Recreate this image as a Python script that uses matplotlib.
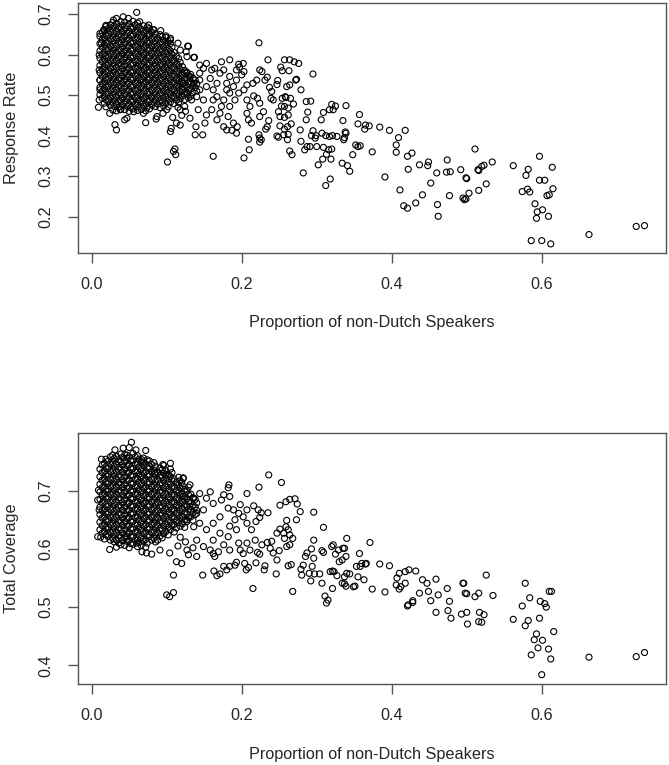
import matplotlib
matplotlib.use("Agg")
import matplotlib.pyplot as plt

plt.rcParams['font.family'] = ['Liberation Sans', 'DejaVu Sans']

x_ticks = [0.0, 0.2, 0.4, 0.6]
rr_ticks = [0.2, 0.3, 0.4, 0.5, 0.6, 0.7]
cov_ticks = [0.4, 0.5, 0.6, 0.7]

# the left cloud is solid black in the picture, so it is read as rows of
# circles; these are the two staggered column sets used by those rows
cols_a = [0.011, 0.017, 0.022, 0.028, 0.033, 0.039, 0.044, 0.050, 0.055, 0.061, 0.066, 0.072,
          0.077, 0.083, 0.088, 0.094, 0.099, 0.105, 0.110, 0.116, 0.121, 0.127, 0.132, 0.138]
cols_b = [0.014, 0.019, 0.025, 0.030, 0.036, 0.041, 0.047, 0.052, 0.058, 0.063, 0.069, 0.074,
          0.080, 0.085, 0.091, 0.096, 0.102, 0.107, 0.113, 0.118, 0.124, 0.129, 0.135, 0.140]

# response rate, solid cloud: (columns, first column, y values)
rr_rows = [
    (cols_a, 3, [0.679, 0.677, 0.681, 0.680, 0.676, 0.682, 0.678]),
    (cols_b, 1, [0.669, 0.673, 0.670, 0.668, 0.672, 0.671, 0.667, 0.673, 0.669, 0.671, 0.668]),
    (cols_a, 1, [0.660, 0.664, 0.661, 0.659, 0.663, 0.662, 0.658, 0.664, 0.660, 0.662, 0.659, 0.664, 0.661]),
    (cols_b, 0, [0.654, 0.651, 0.655, 0.652, 0.650, 0.654, 0.653, 0.649, 0.655, 0.651, 0.653, 0.650, 0.655, 0.652, 0.649]),
    (cols_a, 0, [0.645, 0.642, 0.646, 0.643, 0.641, 0.645, 0.644, 0.640, 0.646, 0.642, 0.644, 0.641, 0.646, 0.643, 0.640, 0.644, 0.642]),
    (cols_b, 0, [0.636, 0.633, 0.637, 0.634, 0.632, 0.636, 0.635, 0.631, 0.637, 0.633, 0.635, 0.632, 0.637, 0.634, 0.631, 0.635, 0.633]),
    (cols_a, 0, [0.627, 0.624, 0.628, 0.625, 0.623, 0.627, 0.626, 0.622, 0.628, 0.624, 0.626, 0.623, 0.628, 0.625, 0.622, 0.626, 0.624, 0.627]),
    (cols_b, 0, [0.618, 0.615, 0.619, 0.616, 0.614, 0.618, 0.617, 0.613, 0.619, 0.615, 0.617, 0.614, 0.619, 0.616, 0.613, 0.617, 0.615, 0.618]),
    (cols_a, 0, [0.609, 0.606, 0.610, 0.607, 0.605, 0.609, 0.608, 0.604, 0.610, 0.606, 0.608, 0.605, 0.610, 0.607, 0.604, 0.608, 0.606, 0.609, 0.605]),
    (cols_b, 0, [0.600, 0.597, 0.601, 0.598, 0.596, 0.600, 0.599, 0.595, 0.601, 0.597, 0.599, 0.596, 0.601, 0.598, 0.595, 0.599, 0.597, 0.600, 0.596]),
    (cols_a, 0, [0.591, 0.588, 0.592, 0.589, 0.587, 0.591, 0.590, 0.586, 0.592, 0.588, 0.590, 0.587, 0.592, 0.589, 0.586, 0.590, 0.588, 0.591, 0.587, 0.590]),
    (cols_b, 0, [0.582, 0.579, 0.583, 0.580, 0.578, 0.582, 0.581, 0.577, 0.583, 0.579, 0.581, 0.578, 0.583, 0.580, 0.577, 0.581, 0.579, 0.582, 0.578, 0.581]),
    (cols_a, 0, [0.573, 0.570, 0.574, 0.571, 0.569, 0.573, 0.572, 0.568, 0.574, 0.570, 0.572, 0.569, 0.574, 0.571, 0.568, 0.572, 0.570, 0.573, 0.569, 0.572, 0.570]),
    (cols_b, 0, [0.564, 0.561, 0.565, 0.562, 0.560, 0.564, 0.563, 0.559, 0.565, 0.561, 0.563, 0.560, 0.565, 0.562, 0.559, 0.563, 0.561, 0.564, 0.560, 0.563, 0.561]),
    (cols_a, 0, [0.555, 0.552, 0.556, 0.553, 0.551, 0.555, 0.554, 0.550, 0.556, 0.552, 0.554, 0.551, 0.556, 0.553, 0.550, 0.554, 0.552, 0.555, 0.551, 0.554, 0.552, 0.556, 0.551]),
    (cols_b, 0, [0.546, 0.543, 0.547, 0.544, 0.542, 0.546, 0.545, 0.541, 0.547, 0.543, 0.545, 0.542, 0.547, 0.544, 0.541, 0.545, 0.543, 0.546, 0.542, 0.545, 0.543, 0.547, 0.542]),
    (cols_a, 0, [0.537, 0.534, 0.538, 0.535, 0.533, 0.537, 0.536, 0.532, 0.538, 0.534, 0.536, 0.533, 0.538, 0.535, 0.532, 0.536, 0.534, 0.537, 0.533, 0.536, 0.534, 0.538, 0.533, 0.537]),
    (cols_b, 0, [0.528, 0.525, 0.529, 0.526, 0.524, 0.528, 0.527, 0.523, 0.529, 0.525, 0.527, 0.524, 0.529, 0.526, 0.523, 0.527, 0.525, 0.528, 0.524, 0.527, 0.525, 0.529, 0.524, 0.528]),
    (cols_a, 0, [0.519, 0.516, 0.520, 0.517, 0.515, 0.519, 0.518, 0.514, 0.520, 0.516, 0.518, 0.515, 0.520, 0.517, 0.514, 0.518, 0.516, 0.519, 0.515, 0.518, 0.516, 0.520, 0.515, 0.519]),
    (cols_b, 0, [0.510, 0.507, 0.511, 0.508, 0.506, 0.510, 0.509, 0.505, 0.511, 0.507, 0.509, 0.506, 0.511, 0.508, 0.505, 0.509, 0.507, 0.510, 0.506, 0.509, 0.507, 0.511, 0.506, 0.510]),
    (cols_a, 0, [0.501, 0.498, 0.502, 0.499, 0.497, 0.501, 0.500, 0.496, 0.502, 0.498, 0.500, 0.497, 0.502, 0.499, 0.496, 0.500, 0.498, 0.501, 0.497, 0.500, 0.498, 0.502, 0.497]),
    (cols_b, 0, [0.492, 0.489, 0.493, 0.490, 0.488, 0.492, 0.491, 0.487, 0.493, 0.489, 0.491, 0.488, 0.493, 0.490, 0.487, 0.491, 0.489, 0.492, 0.488, 0.491, 0.489, 0.493]),
    (cols_a, 1, [0.480, 0.484, 0.481, 0.479, 0.483, 0.482, 0.478, 0.484, 0.480, 0.482, 0.479, 0.484, 0.481, 0.478, 0.482, 0.480, 0.483, 0.479, 0.482]),
    (cols_b, 1, [0.471, 0.475, 0.472, 0.470, 0.474, 0.473, 0.469, 0.475, 0.471, 0.473, 0.470, 0.475, 0.472, 0.469, 0.473, 0.471]),
    (cols_a, 3, [0.463, 0.461, 0.465, 0.464, 0.460, 0.466, 0.462, 0.464, 0.461, 0.466]),
]

# response rate, individual circles outside the solid cloud
rr_x = [0.726, 0.737, 0.663, 0.586, 0.600, 0.612, 0.597, 0.614, 0.582, 0.579, 0.597, 0.604,
        0.615, 0.574, 0.584, 0.581, 0.607, 0.610, 0.591, 0.601, 0.594, 0.593, 0.609, 0.562,
        0.511, 0.534, 0.523, 0.520, 0.515, 0.516, 0.500, 0.499, 0.526, 0.516, 0.503, 0.499,
        0.495, 0.497, 0.477, 0.492, 0.474, 0.478, 0.473, 0.460, 0.452, 0.461, 0.462, 0.449,
        0.448, 0.437, 0.441, 0.432, 0.421, 0.416, 0.411, 0.422, 0.427, 0.421, 0.418, 0.409,
        0.406, 0.406, 0.397, 0.384, 0.374, 0.391, 0.370, 0.364, 0.365, 0.355, 0.357, 0.348,
        0.355, 0.358, 0.352, 0.344, 0.341, 0.334, 0.339, 0.339, 0.338, 0.337, 0.335, 0.336,
        0.325, 0.320, 0.322, 0.317, 0.309, 0.306, 0.327, 0.321, 0.317, 0.312, 0.307, 0.299,
        0.300, 0.309, 0.316, 0.320, 0.313, 0.308, 0.319, 0.302, 0.318, 0.312, 0.295, 0.293,
        0.298, 0.291, 0.287, 0.284, 0.282, 0.279, 0.278, 0.286, 0.288, 0.286, 0.292, 0.295,
        0.279, 0.273, 0.272, 0.276, 0.270, 0.264, 0.263, 0.257, 0.252, 0.254, 0.264, 0.260,
        0.258, 0.259, 0.254, 0.265, 0.269, 0.262, 0.257, 0.253, 0.249, 0.251, 0.257, 0.262,
        0.266, 0.261, 0.257, 0.251, 0.256, 0.249, 0.247, 0.261, 0.262, 0.264, 0.267, 0.248,
        0.247, 0.237, 0.240, 0.239, 0.242, 0.235, 0.223, 0.223, 0.226, 0.224, 0.224, 0.232,
        0.234, 0.236, 0.224, 0.229, 0.224, 0.221, 0.216, 0.227, 0.224, 0.220, 0.215, 0.231,
        0.234, 0.209, 0.210, 0.203, 0.213, 0.209, 0.207, 0.211, 0.207, 0.203, 0.207, 0.200,
        0.203, 0.197, 0.202, 0.196,
        0.162, 0.184, 0.173, 0.164, 0.153, 0.149, 0.144, 0.138, 0.148, 0.151, 0.139, 0.131,
        0.129, 0.126, 0.136, 0.176, 0.180, 0.187, 0.193, 0.194, 0.189, 0.182, 0.167, 0.171,
        0.160, 0.153, 0.162, 0.176, 0.184, 0.189, 0.180, 0.167, 0.158, 0.171, 0.184, 0.193,
        0.196, 0.191, 0.184, 0.173, 0.149, 0.140, 0.144, 0.153, 0.136, 0.144, 0.131, 0.127,
        0.122, 0.127, 0.133, 0.124, 0.142, 0.162, 0.167, 0.180, 0.160, 0.144, 0.176, 0.193,
        0.009, 0.031, 0.033, 0.044, 0.047, 0.072, 0.060, 0.029, 0.033, 0.042, 0.049, 0.064,
        0.076, 0.082, 0.092, 0.099, 0.105, 0.105, 0.115, 0.128, 0.118, 0.127, 0.137, 0.011,
        0.016, 0.019, 0.013, 0.010, 0.010, 0.011, 0.011, 0.010, 0.024, 0.038, 0.056, 0.069,
        0.086, 0.087, 0.100, 0.118, 0.101, 0.109, 0.111, 0.112, 0.105, 0.106, 0.113, 0.118,
        0.095, 0.108, 0.120, 0.115, 0.125]
rr_y = [0.176, 0.178, 0.156, 0.141, 0.141, 0.133, 0.349, 0.322, 0.317, 0.302, 0.290, 0.290,
        0.269, 0.262, 0.261, 0.268, 0.252, 0.254, 0.232, 0.217, 0.212, 0.196, 0.201, 0.326,
        0.367, 0.335, 0.327, 0.324, 0.316, 0.314, 0.294, 0.296, 0.281, 0.265, 0.258, 0.244,
        0.246, 0.242, 0.252, 0.316, 0.340, 0.311, 0.310, 0.308, 0.283, 0.230, 0.201, 0.335,
        0.326, 0.328, 0.254, 0.234, 0.221, 0.227, 0.266, 0.317, 0.357, 0.349, 0.413, 0.395,
        0.377, 0.359, 0.413, 0.421, 0.360, 0.298, 0.424, 0.416, 0.426, 0.429, 0.452, 0.353,
        0.373, 0.375, 0.377, 0.312, 0.326, 0.332, 0.474, 0.406, 0.409, 0.395, 0.437, 0.390,
        0.473, 0.477, 0.464, 0.464, 0.457, 0.439, 0.398, 0.400, 0.398, 0.400, 0.406, 0.400,
        0.373, 0.371, 0.365, 0.367, 0.354, 0.342, 0.342, 0.328, 0.293, 0.277, 0.412, 0.400,
        0.394, 0.373, 0.373, 0.365, 0.308, 0.386, 0.414, 0.439, 0.458, 0.484, 0.485, 0.552,
        0.513, 0.539, 0.537, 0.578, 0.582, 0.587, 0.560, 0.587, 0.569, 0.560, 0.525, 0.521,
        0.496, 0.494, 0.492, 0.492, 0.478, 0.468, 0.472, 0.473, 0.459, 0.447, 0.445, 0.451,
        0.429, 0.422, 0.416, 0.424, 0.402, 0.396, 0.399, 0.390, 0.403, 0.362, 0.353, 0.536,
        0.526, 0.519, 0.509, 0.492, 0.488, 0.587, 0.629, 0.402, 0.390, 0.384, 0.394, 0.416,
        0.422, 0.437, 0.447, 0.459, 0.480, 0.492, 0.498, 0.558, 0.562, 0.537, 0.529, 0.537,
        0.544, 0.391, 0.365, 0.345, 0.431, 0.439, 0.455, 0.472, 0.488, 0.513, 0.525, 0.550,
        0.558, 0.569, 0.578, 0.576,
        0.349, 0.587, 0.582, 0.566, 0.578, 0.566, 0.554, 0.402, 0.402, 0.431, 0.422, 0.443,
        0.620, 0.607, 0.593, 0.422, 0.414, 0.413, 0.406, 0.422, 0.431, 0.447, 0.439, 0.455,
        0.464, 0.451, 0.488, 0.488, 0.505, 0.521, 0.529, 0.529, 0.541, 0.554, 0.546, 0.537,
        0.505, 0.488, 0.472, 0.472, 0.488, 0.496, 0.513, 0.521, 0.529, 0.537, 0.546, 0.554,
        0.529, 0.505, 0.488, 0.472, 0.464, 0.513, 0.496, 0.513, 0.562, 0.574, 0.562, 0.562,
        0.470, 0.427, 0.414, 0.439, 0.443, 0.432, 0.704, 0.685, 0.689, 0.693, 0.689, 0.681,
        0.673, 0.661, 0.659, 0.646, 0.640, 0.636, 0.628, 0.621, 0.611, 0.595, 0.593, 0.652,
        0.661, 0.672, 0.628, 0.599, 0.562, 0.537, 0.513, 0.488, 0.455, 0.464, 0.459, 0.455,
        0.441, 0.447, 0.464, 0.464, 0.335, 0.361, 0.367, 0.353, 0.410, 0.418, 0.431, 0.426,
        0.455, 0.445, 0.450, 0.470, 0.460]

# total coverage, solid cloud
cov_rows = [
    (cols_a, 3, [0.761, 0.759, 0.763, 0.762, 0.758, 0.764, 0.760]),
    (cols_b, 1, [0.754, 0.758, 0.755, 0.753, 0.757, 0.756, 0.752, 0.758, 0.754, 0.756, 0.753]),
    (cols_a, 1, [0.747, 0.751, 0.748, 0.746, 0.750, 0.749, 0.745, 0.751, 0.747, 0.749, 0.746, 0.751, 0.748]),
    (cols_b, 0, [0.744, 0.741, 0.745, 0.742, 0.740, 0.744, 0.743, 0.739, 0.745, 0.741, 0.743, 0.740, 0.745, 0.742, 0.739, 0.743]),
    (cols_a, 0, [0.737, 0.734, 0.738, 0.735, 0.733, 0.737, 0.736, 0.732, 0.738, 0.734, 0.736, 0.733, 0.738, 0.735, 0.732, 0.736, 0.734, 0.737]),
    (cols_b, 0, [0.731, 0.728, 0.732, 0.729, 0.727, 0.731, 0.730, 0.726, 0.732, 0.728, 0.730, 0.727, 0.732, 0.729, 0.726, 0.730, 0.728, 0.731]),
    (cols_a, 0, [0.724, 0.721, 0.725, 0.722, 0.720, 0.724, 0.723, 0.719, 0.725, 0.721, 0.723, 0.720, 0.725, 0.722, 0.719, 0.723, 0.721, 0.724, 0.720, 0.723]),
    (cols_b, 0, [0.718, 0.715, 0.719, 0.716, 0.714, 0.718, 0.717, 0.713, 0.719, 0.715, 0.717, 0.714, 0.719, 0.716, 0.713, 0.717, 0.715, 0.718, 0.714, 0.717]),
    (cols_a, 0, [0.711, 0.708, 0.712, 0.709, 0.707, 0.711, 0.710, 0.706, 0.712, 0.708, 0.710, 0.707, 0.712, 0.709, 0.706, 0.710, 0.708, 0.711, 0.707, 0.710, 0.708]),
    (cols_b, 0, [0.705, 0.702, 0.706, 0.703, 0.701, 0.705, 0.704, 0.700, 0.706, 0.702, 0.704, 0.701, 0.706, 0.703, 0.700, 0.704, 0.702, 0.705, 0.701, 0.704, 0.702, 0.706]),
    (cols_a, 0, [0.698, 0.695, 0.699, 0.696, 0.694, 0.698, 0.697, 0.693, 0.699, 0.695, 0.697, 0.694, 0.699, 0.696, 0.693, 0.697, 0.695, 0.698, 0.694, 0.697, 0.695, 0.699, 0.694]),
    (cols_b, 0, [0.692, 0.689, 0.693, 0.690, 0.688, 0.692, 0.691, 0.687, 0.693, 0.689, 0.691, 0.688, 0.693, 0.690, 0.687, 0.691, 0.689, 0.692, 0.688, 0.691, 0.689, 0.693, 0.688]),
    (cols_a, 0, [0.685, 0.682, 0.686, 0.683, 0.681, 0.685, 0.684, 0.680, 0.686, 0.682, 0.684, 0.681, 0.686, 0.683, 0.680, 0.684, 0.682, 0.685, 0.681, 0.684, 0.682, 0.686, 0.681, 0.685]),
    (cols_b, 0, [0.679, 0.676, 0.680, 0.677, 0.675, 0.679, 0.678, 0.674, 0.680, 0.676, 0.678, 0.675, 0.680, 0.677, 0.674, 0.678, 0.676, 0.679, 0.675, 0.678, 0.676, 0.680, 0.675, 0.679]),
    (cols_a, 0, [0.672, 0.669, 0.673, 0.670, 0.668, 0.672, 0.671, 0.667, 0.673, 0.669, 0.671, 0.668, 0.673, 0.670, 0.667, 0.671, 0.669, 0.672, 0.668, 0.671, 0.669, 0.673, 0.668, 0.672]),
    (cols_b, 0, [0.666, 0.663, 0.667, 0.664, 0.662, 0.666, 0.665, 0.661, 0.667, 0.663, 0.665, 0.662, 0.667, 0.664, 0.661, 0.665, 0.663, 0.666, 0.662, 0.665, 0.663, 0.667, 0.662, 0.666]),
    (cols_a, 0, [0.659, 0.656, 0.660, 0.657, 0.655, 0.659, 0.658, 0.654, 0.660, 0.656, 0.658, 0.655, 0.660, 0.657, 0.654, 0.658, 0.656, 0.659, 0.655, 0.658, 0.656, 0.660, 0.655, 0.659]),
    (cols_b, 0, [0.653, 0.650, 0.654, 0.651, 0.649, 0.653, 0.652, 0.648, 0.654, 0.650, 0.652, 0.649, 0.654, 0.651, 0.648, 0.652, 0.650, 0.653, 0.649, 0.652, 0.650, 0.654, 0.649]),
    (cols_a, 0, [0.646, 0.643, 0.647, 0.644, 0.642, 0.646, 0.645, 0.641, 0.647, 0.643, 0.645, 0.642, 0.647, 0.644, 0.641, 0.645, 0.643, 0.646, 0.642, 0.645, 0.643, 0.647]),
    (cols_b, 0, [0.640, 0.637, 0.641, 0.638, 0.636, 0.640, 0.639, 0.635, 0.641, 0.637, 0.639, 0.636, 0.641, 0.638, 0.635, 0.639, 0.637, 0.640, 0.636, 0.639, 0.637]),
    (cols_a, 0, [0.633, 0.630, 0.634, 0.631, 0.629, 0.633, 0.632, 0.628, 0.634, 0.630, 0.632, 0.629, 0.634, 0.631, 0.628, 0.632, 0.630, 0.633, 0.629]),
    (cols_b, 0, [0.627, 0.624, 0.628, 0.625, 0.623, 0.627, 0.626, 0.622, 0.628, 0.624, 0.626, 0.623, 0.628, 0.625, 0.622, 0.626, 0.624]),
    (cols_a, 1, [0.617, 0.621, 0.618, 0.616, 0.620, 0.619, 0.615, 0.621, 0.617, 0.619, 0.616, 0.621, 0.618, 0.615, 0.619]),
    (cols_b, 2, [0.615, 0.612, 0.610, 0.614, 0.613, 0.609, 0.615, 0.611, 0.613, 0.610, 0.615, 0.612]),
    (cols_a, 4, [0.603, 0.607, 0.606, 0.602, 0.608, 0.604, 0.606, 0.603]),
]

# total coverage, individual circles outside the solid cloud
cov_x = [0.726, 0.737, 0.663, 0.600, 0.612, 0.586, 0.595, 0.609, 0.590, 0.601, 0.593, 0.616,
         0.578, 0.582, 0.562, 0.597, 0.574, 0.584, 0.578, 0.598, 0.604, 0.606, 0.610, 0.613,
         0.526, 0.535, 0.516, 0.511, 0.500, 0.498, 0.495, 0.496, 0.501, 0.516, 0.520, 0.523,
         0.517, 0.500, 0.493, 0.479, 0.475, 0.477, 0.474, 0.462, 0.459, 0.459, 0.452, 0.449,
         0.447, 0.441, 0.437, 0.428, 0.421, 0.422, 0.428, 0.432, 0.423, 0.418, 0.410, 0.407,
         0.406, 0.410, 0.418, 0.412, 0.397, 0.384, 0.391, 0.374, 0.371, 0.366, 0.358, 0.355,
         0.363, 0.349, 0.351, 0.357, 0.340, 0.337, 0.339, 0.334, 0.325, 0.322, 0.320, 0.309,
         0.307, 0.309, 0.296, 0.296, 0.293, 0.296, 0.294, 0.287, 0.285, 0.282, 0.280, 0.279,
         0.290, 0.292, 0.297, 0.304, 0.307, 0.311, 0.315, 0.313, 0.318, 0.321, 0.323, 0.327,
         0.321, 0.334, 0.337, 0.340, 0.344, 0.339, 0.337, 0.353, 0.360, 0.365, 0.330, 0.329,
         0.335, 0.264, 0.259, 0.271, 0.274, 0.278, 0.273, 0.253, 0.251, 0.236, 0.223, 0.207,
         0.222, 0.226, 0.235, 0.224, 0.219, 0.260, 0.259, 0.262, 0.264, 0.256, 0.251, 0.247,
         0.257, 0.268, 0.264, 0.260, 0.266, 0.262, 0.268, 0.246, 0.247, 0.242, 0.238, 0.250,
         0.240, 0.234, 0.231, 0.230, 0.224, 0.221, 0.227, 0.219, 0.215, 0.209, 0.204, 0.206,
         0.191, 0.193, 0.184, 0.176, 0.180, 0.167, 0.171, 0.163, 0.148, 0.198, 0.202, 0.207,
         0.211, 0.218, 0.213, 0.207, 0.202, 0.196, 0.191, 0.182, 0.183, 0.182, 0.176, 0.184,
         0.173, 0.162, 0.153, 0.144, 0.122, 0.131, 0.158, 0.207, 0.216, 0.198, 0.189, 0.184,
         0.193, 0.182, 0.171, 0.162, 0.176, 0.169, 0.158, 0.149, 0.140, 0.127, 0.129, 0.162,
         0.164, 0.184, 0.196, 0.144, 0.136, 0.153, 0.162, 0.171, 0.140, 0.127, 0.149, 0.131,
         0.122, 0.136,
         0.053, 0.050, 0.059, 0.072, 0.013, 0.031, 0.042, 0.047, 0.067, 0.069, 0.095, 0.105,
         0.084, 0.099, 0.122, 0.120, 0.009, 0.008, 0.010, 0.008, 0.012, 0.024, 0.033, 0.047,
         0.060, 0.067, 0.073, 0.080, 0.091, 0.104, 0.113, 0.120, 0.109, 0.100, 0.109, 0.104,
         0.140, 0.115, 0.125, 0.135, 0.118]
cov_y = [0.415, 0.422, 0.414, 0.384, 0.411, 0.418, 0.430, 0.428, 0.444, 0.443, 0.454, 0.458,
         0.468, 0.477, 0.479, 0.481, 0.502, 0.516, 0.541, 0.510, 0.506, 0.500, 0.527, 0.527,
         0.555, 0.520, 0.524, 0.518, 0.523, 0.524, 0.541, 0.541, 0.471, 0.475, 0.474, 0.487,
         0.491, 0.491, 0.488, 0.481, 0.494, 0.510, 0.532, 0.521, 0.491, 0.548, 0.511, 0.527,
         0.541, 0.547, 0.524, 0.511, 0.502, 0.504, 0.508, 0.562, 0.564, 0.561, 0.558, 0.550,
         0.538, 0.531, 0.541, 0.535, 0.571, 0.574, 0.526, 0.531, 0.611, 0.575, 0.570, 0.552,
         0.547, 0.535, 0.536, 0.592, 0.618, 0.601, 0.587, 0.581, 0.591, 0.607, 0.604, 0.594,
         0.597, 0.637, 0.663, 0.615, 0.600, 0.584, 0.570, 0.593, 0.587, 0.572, 0.555, 0.565,
         0.558, 0.545, 0.557, 0.557, 0.541, 0.519, 0.512, 0.507, 0.561, 0.562, 0.561, 0.554,
         0.532, 0.541, 0.552, 0.558, 0.557, 0.536, 0.540, 0.570, 0.575, 0.574, 0.578, 0.598,
         0.601, 0.685, 0.681, 0.686, 0.677, 0.664, 0.650, 0.714, 0.675, 0.727, 0.706, 0.695,
         0.667, 0.662, 0.662, 0.654, 0.647, 0.649, 0.638, 0.633, 0.624, 0.627, 0.634, 0.627,
         0.618, 0.618, 0.607, 0.604, 0.573, 0.571, 0.527, 0.557, 0.581, 0.593, 0.601, 0.597,
         0.613, 0.611, 0.571, 0.564, 0.591, 0.594, 0.607, 0.576, 0.532, 0.568, 0.575, 0.564,
         0.572, 0.577, 0.570, 0.570, 0.564, 0.554, 0.557, 0.562, 0.555, 0.598, 0.592, 0.610,
         0.598, 0.615, 0.633, 0.644, 0.655, 0.661, 0.650, 0.670, 0.710, 0.705, 0.693, 0.690,
         0.684, 0.678, 0.687, 0.695, 0.722, 0.710, 0.698, 0.667, 0.674, 0.676, 0.667, 0.639,
         0.633, 0.621, 0.627, 0.615, 0.607, 0.595, 0.598, 0.604, 0.615, 0.598, 0.590, 0.592,
         0.587, 0.598, 0.610, 0.644, 0.638, 0.633, 0.644, 0.655, 0.661, 0.650, 0.667, 0.673,
         0.690, 0.687,
         0.783, 0.774, 0.770, 0.769, 0.754, 0.770, 0.773, 0.761, 0.753, 0.749, 0.745, 0.747,
         0.730, 0.727, 0.721, 0.714, 0.701, 0.684, 0.667, 0.621, 0.620, 0.599, 0.615, 0.621,
         0.610, 0.595, 0.593, 0.591, 0.598, 0.593, 0.578, 0.575, 0.555, 0.521, 0.525, 0.518,
         0.587, 0.605, 0.612, 0.602, 0.620]


def unroll(rows):
    xs, ys = [], []
    for cols, first, vals in rows:
        xs += cols[first:first + len(vals)]
        ys += vals
    return xs, ys


text_col = '#262626'
frame_col = '#555555'


def draw_panel(ax, xs, ys, ylabel, yticks, ylim):
    ax.scatter(xs, ys, s=19, facecolors='none', edgecolors='black', linewidths=0.8)
    ax.set_xlim(-0.0187, 0.7653)
    ax.set_ylim(*ylim)
    ax.set_xticks(x_ticks)
    ax.set_xticklabels(['%.1f' % v for v in x_ticks])
    ax.set_yticks(yticks)
    ax.set_yticklabels(['%.1f' % v for v in yticks], rotation=90, va='center')
    for sp in ax.spines.values():
        sp.set_color(frame_col)
        sp.set_linewidth(1.0)
    ax.tick_params(length=7.2, width=1.0, color=frame_col, labelsize=11.7,
                   labelcolor=text_col, pad=10)
    ax.set_xlabel('Proportion of non-Dutch Speakers', fontsize=11.7, color=text_col, va='center')
    ax.xaxis.set_label_coords(0.5, -0.28)
    ax.set_ylabel(ylabel, fontsize=11.7, color=text_col, va='center')
    ax.yaxis.set_label_coords(-0.112, 0.5)


fig = plt.figure(figsize=(6.69, 7.65), dpi=100)
ax1 = fig.add_axes([0.1161, 0.6697, 0.879, 0.326])
ax2 = fig.add_axes([0.1161, 0.1059, 0.879, 0.3277])

rx, ry = unroll(rr_rows)
draw_panel(ax1, rx + rr_x, ry + rr_y, 'Response Rate', rr_ticks, (0.1113, 0.7264))
cx, cy = unroll(cov_rows)
draw_panel(ax2, cx + cov_x, cy + cov_y, 'Total Coverage', cov_ticks, (0.368, 0.7985))

fig.savefig('out.png', dpi=100)
